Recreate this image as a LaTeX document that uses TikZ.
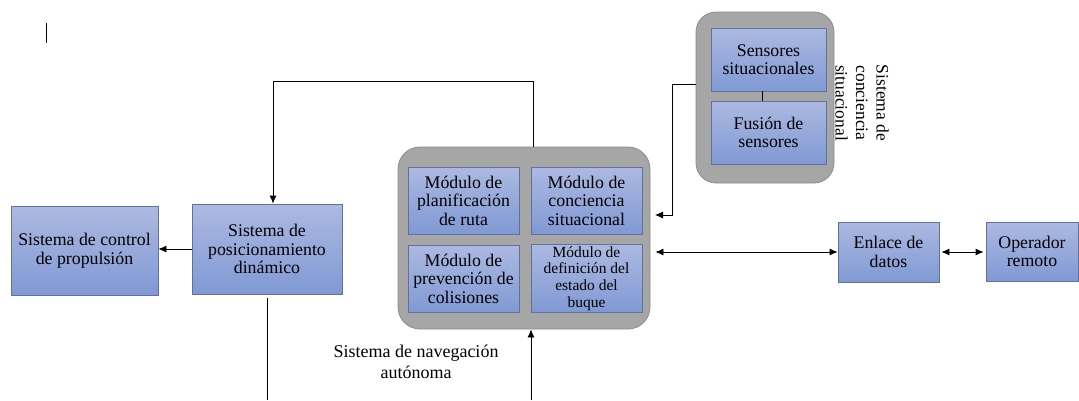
\documentclass[tikz,border=0pt]{standalone}
\usepackage{fontspec}
\setmainfont{Liberation Serif}
\usepackage{tikz}
\usetikzlibrary{arrows.meta,positioning}
\usepackage{xcolor}
\definecolor{boxtop}{RGB}{172,185,225}
\definecolor{boxbot}{RGB}{128,153,212}
\definecolor{boxline}{RGB}{98,112,158}
\definecolor{grpfill}{RGB}{166,166,166}
\definecolor{grpline}{RGB}{140,140,140}
\tikzstyle{bluebox} = [rectangle, draw=boxline, line width=0.8pt, top color=boxtop, bottom color=boxbot, align=center, inner sep=2pt, font=\fontsize{17.8}{18.6}\selectfont]
\tikzstyle{group} = [rectangle, rounded corners=22pt, draw=grpline, line width=0.8pt, fill=grpfill]
\tikzstyle{arrow} = [line width=0.8pt, -{Latex[length=8pt,width=7pt]}]
\tikzstyle{dblarrow} = [line width=0.8pt, {Latex[length=8pt,width=7pt]}-{Latex[length=8pt,width=7pt]}]
\tikzstyle{plain} = [line width=0.8pt]

\begin{document}
\begin{tikzpicture}[x=1pt, y=-1pt]
\useasboundingbox (0,0) rectangle (1079,400);

% Cursor mark
\draw[plain] (46,23) -- (46,43);

% Left side
\node[bluebox, minimum width=147pt, minimum height=89pt] (prop) at (84.5,250.5) {Sistema de control\\de propulsión};
\node[bluebox, minimum width=150pt, minimum height=90pt] (pos) at (267,249) {Sistema de\\posicionamiento\\dinámico};

% Navigation system
\node[group, minimum width=252pt, minimum height=182pt] (nav) at (524,238) {};
\node[bluebox, minimum width=111pt, minimum height=67pt] (ruta) at (463.5,200.5) {Módulo de\\planificación\\de ruta};
\node[bluebox, minimum width=111pt, minimum height=67pt] (conc) at (586.5,200.5) {Módulo de\\conciencia\\situacional};
\node[bluebox, minimum width=111pt, minimum height=67pt] (colis) at (463.5,278.5) {Módulo de\\prevención de\\colisiones};
\node[bluebox, minimum width=111pt, minimum height=67pt, font=\fontsize{15.5}{16.7}\selectfont] (buque) at (586.5,278.5) {Módulo de\\definición del\\estado del\\buque};
\node[align=center, font=\fontsize{18}{21.5}\selectfont] (navlbl) at (416,362) {Sistema de navegación\\autónoma};

% Situational awareness system
\node[group, rounded corners=20pt, minimum width=138pt, minimum height=171pt] (sens) at (765,97.5) {};
\node[bluebox, minimum width=115pt, minimum height=63pt] (senssit) at (768.5,59.5) {Sensores\\situacionales};
\node[bluebox, minimum width=115pt, minimum height=63pt] (fusion) at (768.5,132.5) {Fusión de\\sensores};
\node[rotate=-90, align=center, font=\fontsize{17.5}{20.5}\selectfont] (senslbl) at (862,103) {Sistema de\\conciencia\\situacional};

% Data link
\node[bluebox, minimum width=101pt, minimum height=60pt] (enlace) at (888.5,252) {Enlace de\\datos};
\node[bluebox, minimum width=92pt, minimum height=59pt] (oper) at (1032,251.5) {Operador\\remoto};

% Free ends
\coordinate (loopR) at (533,81);
\coordinate (loopL) at (273,81);
\coordinate (sensout) at (672,84);
\coordinate (concin) at (650,215);
\coordinate (posend) at (267,400);
\coordinate (navin) at (531,400);

% Connectors
\draw[arrow] (pos.west) -- (pos.west -| prop.east);
\draw[arrow] (nav.north -| loopR) -- (loopR) -- (loopL) -- (loopL |- pos.north);
\draw[plain, shorten <=4pt] (pos.south) -- (posend);
\draw[arrow] (navin) -- (navin |- nav.south);
\draw[arrow, shorten >=5pt] (sensout -| sens.west) -- (sensout) |- (concin);
\draw[plain] ([xshift=-6.5pt]senssit.south) -- ([xshift=-6.5pt]fusion.north);
\draw[dblarrow, shorten <=5pt] (nav.east |- enlace.west) -- (enlace.west);
\draw[dblarrow, shorten <=2pt, shorten >=2pt] (enlace.east) -- (enlace.east -| oper.west);
\end{tikzpicture}
\end{document}
